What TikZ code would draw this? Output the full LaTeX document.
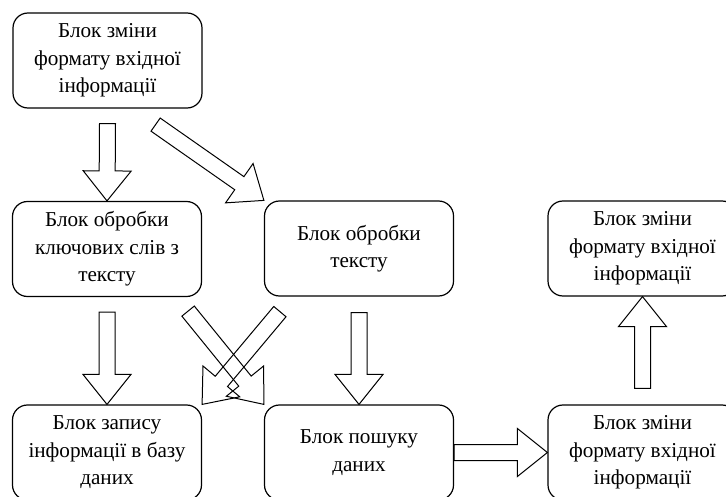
\documentclass[tikz,border=0pt]{standalone}
\usepackage{fontspec}
\setmainfont{Liberation Serif}
\newfontfamily\blockfont{Liberation Serif}
\usetikzlibrary{calc}
\tikzset{
    block/.style={draw, rounded corners=15pt, line width=1.2pt,
        minimum width=189pt, minimum height=95pt, align=center,
        font={\blockfont\fontsize{21.2}{27.5}\selectfont}},
    hollow/.style={draw, line width=1pt, line join=miter}
}
% hollow block arrow from #1 (tail) to #2 (tip)
\newcommand{\fatarrow}[2]{%
    \coordinate (fa-base) at ($(#2)!30pt!(#1)$);
    \draw[hollow] ($(#1)!8pt!90:(#2)$) -- ($(fa-base)!8pt!90:(#2)$)
        -- ($(fa-base)!24pt!90:(#2)$) -- (#2)
        -- ($(fa-base)!24pt!-90:(#2)$) -- ($(fa-base)!8pt!-90:(#2)$)
        -- ($(#1)!8pt!-90:(#2)$) -- cycle;}

\begin{document}
\begin{tikzpicture}[x=1pt, y=-1pt]
\useasboundingbox (0,0) rectangle (726,497);
\clip (0,0) rectangle (726,497);

\node[block] (inFormat) at (107.5,60.5) {Блок зміни\\формату вхідної\\інформації};
\node[block] (keyWords) at (107,249) {Блок обробки\\ключових слів з\\тексту};
\node[block] (textProc) at (359,248.5) {Блок обробки\\тексту};
\node[block] (upFormat) at (642.5,248.5) {Блок зміни\\формату вхідної\\інформації};
\node[block] (storeDb) at (107,452.5) {Блок запису\\інформації в базу\\даних};
\node[block] (searchDb) at (359,452.5) {Блок пошуку\\даних};
\node[block] (outFormat) at (642.5,452.5) {Блок зміни\\формату вхідної\\інформації};

% arrow tails
\coordinate (t1) at ($(inFormat.south)+(0,15)$);
\coordinate (t2) at ($(inFormat.south east)+(-47,16)$);
\coordinate (t3) at ($(keyWords.south)+(0,15)$);
\coordinate (t4) at ($(keyWords.south east)+(-14,14)$);
\coordinate (t5) at ($(textProc.south west)+(16,15)$);
\coordinate (t6) at ($(textProc.south)+(0,16)$);
\coordinate (t7) at ($(outFormat.north)+(0,-16)$);

\fatarrow{t1}{keyWords.north}
\fatarrow{t2}{textProc.north west}
\fatarrow{t3}{storeDb.north}
\fatarrow{t4}{searchDb.north west}
\fatarrow{t5}{storeDb.north east}
\fatarrow{t6}{searchDb.north}
\fatarrow{searchDb.east}{outFormat.west}
\fatarrow{t7}{upFormat.south}
\end{tikzpicture}
\end{document}
